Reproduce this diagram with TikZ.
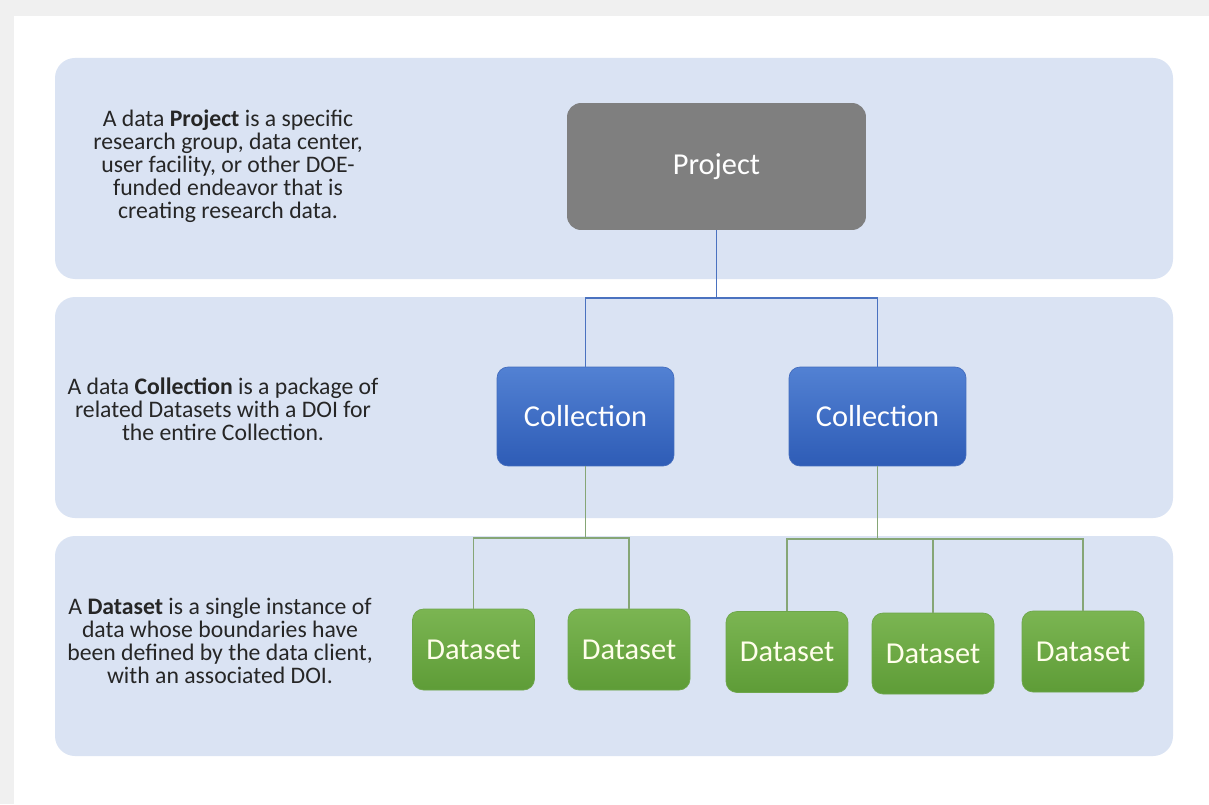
\documentclass[tikz,border=0pt]{standalone}
\usepackage{fontspec}
\setmainfont{Carlito}
\usepackage{xcolor}
\usepackage{tikz}

\definecolor{bandblue}{HTML}{DAE3F3}
\definecolor{projgray}{HTML}{7F7F7F}
\definecolor{coltop}{HTML}{5281D3}
\definecolor{colbot}{HTML}{2E5CB6}
\definecolor{dstop}{HTML}{7BB552}
\definecolor{dsbot}{HTML}{5E9C37}
\definecolor{bluelink}{HTML}{4A72C0}
\definecolor{greenlink}{HTML}{86A676}

\begin{document}
\begin{tikzpicture}[
  x=0.02cm, y=-0.02cm,
  band/.style={fill=bandblue, rounded corners=0.4cm},
  info/.style={align=center, text=black!85, font=\fontsize{13.5}{13.1}\selectfont},
  box/.style={rounded corners=0.22cm, text=white, font=\fontsize{17.3}{19}\selectfont},
  project/.style={box, fill=projgray, minimum width=5.98cm, minimum height=2.54cm, rounded corners=0.28cm},
  collection/.style={box, top color=coltop, bottom color=colbot, draw=colbot!90, minimum width=3.54cm, minimum height=1.98cm},
  dataset/.style={box, text=white!92!yellow, top color=dstop, bottom color=dsbot, draw=dsbot!90, minimum width=2.44cm, minimum height=1.62cm},
  bluewire/.style={draw=bluelink, line width=0.7pt},
  greenwire/.style={draw=greenlink, line width=0.7pt}
]
% page and frame
\fill[black!6] (0,0) rectangle (1209,804);
\fill[white] (14,16) rectangle (1209,804);

% bands
\path[band] (55,58) rectangle (1173,279);
\path[band] (55,297) rectangle (1173,518);
\path[band] (55,536) rectangle (1173,756);

% descriptions
\node[info] (projtext) at (228,166) {A data \textbf{Project} is a specific\\
  research group, data center,\\ user facility, or other DOE-\\
  funded endeavor that is\\ creating research data.};
\node[info] (coltext) at (223,409) {A data \textbf{Collection} is a package of\\
  related Datasets with a DOI for\\ the entire Collection.};
\node[info] (dstext) at (220,641) {A \textbf{Dataset} is a single instance of\\
  data whose boundaries have\\ been defined by the data client,\\
  with an associated DOI.};

% hierarchy
\node[project] (proj) at (716.5,166.5) {Project};
\node[collection] (col1) at (585.5,416.5) {Collection};
\node[collection] (col2) at (877.5,416.5) {Collection};
\node[dataset] (ds1) at (473.5,649.5) {Dataset};
\node[dataset] (ds2) at (629,649.5) {Dataset};
\node[dataset] (ds3) at (787,652) {Dataset};
\node[dataset] (ds4) at (933,653.5) {Dataset};
\node[dataset] (ds5) at (1083,651.5) {Dataset};

\coordinate (pbus) at (716.5,298);
\coordinate (c1bus) at (585.5,538);
\coordinate (c2bus) at (877.5,539);

\draw[bluewire] (proj.south) -- (pbus) -| (col1.north);
\draw[bluewire] (pbus) -| (col2.north);
\draw[greenwire] (col1.south) -- (c1bus) -| (ds1.north);
\draw[greenwire] (c1bus) -| (ds2.north);
\draw[greenwire] (col2.south) -- (c2bus) -| (ds3.north);
\draw[greenwire] (c2bus) -| (ds4.north);
\draw[greenwire] (c2bus) -| (ds5.north);
\end{tikzpicture}
\end{document}
